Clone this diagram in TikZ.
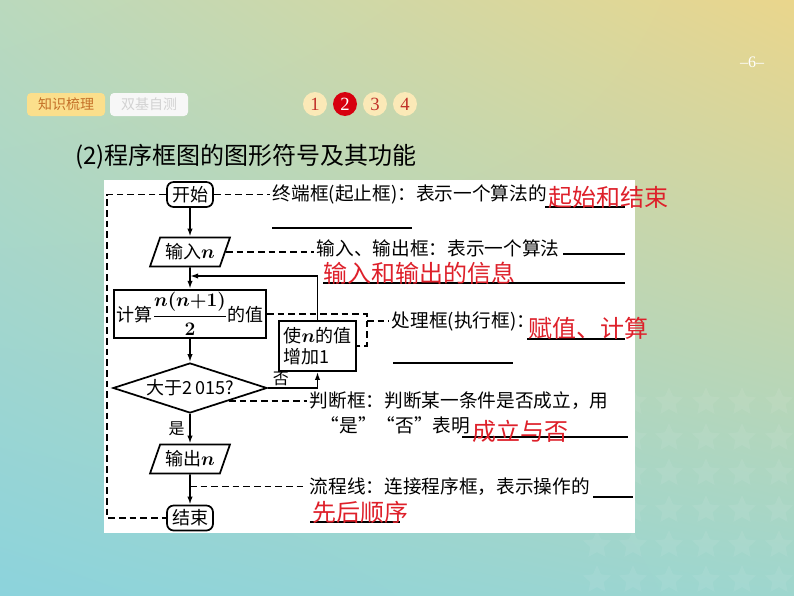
\documentclass[tikz,border=0pt]{standalone}
\usepackage{fontspec}
\usepackage{amsmath}
\setmainfont{Noto Sans CJK SC}
\newfontfamily\latserif{Liberation Serif}
\usetikzlibrary{shapes.geometric,arrows.meta,calc,shadings}
\definecolor{bgul}{RGB}{186,217,189}
\definecolor{bgur}{RGB}{234,214,140}
\definecolor{bgll}{RGB}{140,211,220}
\definecolor{bglr}{RGB}{158,214,206}
\definecolor{ansred}{RGB}{222,32,42}
\definecolor{tabyel}{RGB}{251,223,140}
\definecolor{tabtxt}{RGB}{196,112,40}
\definecolor{pgyel}{RGB}{251,233,183}
\definecolor{pgtxt}{RGB}{192,48,40}
\definecolor{pgred}{RGB}{215,0,15}
\newcommand{\varn}{{\boldmath$n$}}

\begin{document}
\begin{tikzpicture}[x=0.75pt,y=-0.75pt,
  box/.style={draw,line width=1.3pt,font=\fontsize{13.5}{16}\selectfont,inner sep=2pt},
  term/.style={box,rounded corners=5pt,minimum width=34.5pt,minimum height=18.75pt},
  io/.style={box,trapezium,trapezium left angle=67,trapezium right angle=113,
    trapezium stretches=true,minimum width=60pt,minimum height=21.75pt},
  proc/.style={box},
  decide/.style={box,diamond,aspect=3,minimum width=115.5pt,minimum height=37.5pt,inner sep=0pt},
  flow/.style={line width=1.3pt,-{Latex[length=6pt,width=4pt]}},
  dashline/.style={line width=1.2pt,dash pattern=on 5pt off 3pt},
  note/.style={anchor=west,font=\fontsize{14}{16}\selectfont,inner sep=2pt},
  answer/.style={anchor=west,font=\fontsize{18}{20}\selectfont,text=ansred,inner sep=0pt},
  blank/.style={line width=1.2pt},
  tab/.style={rounded corners=3pt,minimum width=58.5pt,minimum height=17.25pt,
    inner sep=0pt,font=\fontsize{10.5}{12}\selectfont},
  pg/.style={circle,fill=pgyel,text=pgtxt,minimum size=18pt,inner sep=0pt,
    font=\latserif\fontsize{14}{16}\selectfont},
  starmark/.style={star,star points=5,star point ratio=2.1,minimum size=22pt,
    inner sep=0pt,fill=white,opacity=0.07}]

  %slide background
  \shade[upper left=bgul,upper right=bgur,lower left=bgll,lower right=bglr]
    (0,0) rectangle (794,596);
  \foreach \sx in {597,633,669,706,742,779}
    \foreach \sy in {402,438,473,510,545,580}
      \node[starmark] (s\sx-\sy) at (\sx,\sy) {};

  %header
  \node[text=white,font=\latserif\fontsize{12}{14}\selectfont] (pnum) at (752,62) {–6–};
  \node[tab,fill=tabyel,text=tabtxt] (tabA) at (66,104.5) {知识梳理};
  \node[tab,fill=white!94!gray,text=gray!35] (tabB) at (149,104.5) {双基自测};
  \foreach \k/\xx in {1/315,3/375,4/405}
    \node[pg] (pg\k) at (\xx,104) {\k};
  \node[pg,fill=pgred,text=white] (pg2) at (345,104) {2};
  \node[anchor=west,inner sep=0pt,font=\fontsize{18}{20}\selectfont] (title) at (75,157)
    {(2)程序框图的图形符号及其功能};

  %white panel
  \fill[white] (104,180) rectangle (635,533);

  %flowchart
  \node[term] (start) at (190,194.5) {开始};
  \node[io] (inp) at (190,252) {输入\varn};
  \node[proc,minimum width=103.5pt,minimum height=34.5pt] (calc) at (190,314)
    {计算{\boldmath$\dfrac{n(n{+}1)}{2}$}的值};
  \node[proc,align=left,minimum width=57.75pt,minimum height=37.5pt] (incr) at (317.5,346)
    {使\varn 的值\\增加1};
  \node[decide] (dec) at (190,388) {大于2\,015?};
  \node[io] (outp) at (190,459) {输出\varn};
  \node[term] (stop) at (190,518) {结束};

  \draw[flow] (start) -- (inp);
  \draw[flow] (inp) -- (calc);
  \draw[flow] (calc) -- (dec);
  \draw[flow] (dec) -- node[left,pos=0.5,font=\fontsize{12}{14}\selectfont] (yes) {是} (outp);
  \draw[flow] (outp) -- (stop);
  \draw[flow] (dec.east) -| node[above,pos=0.13,inner sep=1pt,font=\fontsize{12}{14}\selectfont] (no) {否} (incr.south);
  \coordinate (back) at (190,276);
  \draw[flow] (incr.north) |- (back);

  %notes on the right
  \node[note] (t1) at (270,194.5) {终端框(起止框)：表示一个算法的};
  \node[note] (t2) at (314,248) {输入、输出框：表示一个算法};
  \node[note] (t3) at (389,321) {处理框(执行框)：};
  \node[note] (t4) at (307,401) {判断框：判断某一条件是否成立，用};
  \node[note] (t4b) at (318,425) {“是”“否”表明};
  \node[note] (t5) at (307,487) {流程线：连接程序框，表示操作的};

  %dashed leaders
  \coordinate (lt) at (107,0);
  \draw[dashline] (start.west) -- (start.west -| lt) |- (stop.west);
  \draw[dashline] (start.east) -- (t1.west);
  \draw[dashline] (inp.east) -- (inp.east -| t2.west);
  \coordinate (brk) at (367,0);
  \draw[dashline] (calc.east) -- (calc.east -| brk) |- (incr.east);
  \draw[dashline] (brk |- t3.west) -- (t3.west);
  \draw[dashline] (dec.south east) -- (dec.south east -| t4.west);
  \coordinate (fl) at ($(outp.south)!0.4!(stop.north)$);
  \draw[dashline] (fl) -- (fl -| t5.west);

  %blanks and answers
  \draw[blank] (545,207) -- (625,207);
  \draw[blank] (272,228) -- (412,228);
  \draw[blank] (563,254) -- (625,254);
  \draw[blank] (323,283) -- (625,283);
  \draw[blank] (527,339) -- (625,339);
  \draw[blank] (393,363) -- (513,363);
  \draw[blank] (462,437) -- (628,437);
  \draw[blank] (593,497) -- (633,497);
  \draw[blank] (310,522) -- (400,522);
  \node[answer] (a1) at (548,197) {起始和结束};
  \node[answer] (a2) at (323,273) {输入和输出的信息};
  \node[answer] (a3) at (528,328) {赋值、计算};
  \node[answer] (a4) at (472,431) {成立与否};
  \node[answer] (a5) at (312,512) {先后顺序};
\end{tikzpicture}
\end{document}
